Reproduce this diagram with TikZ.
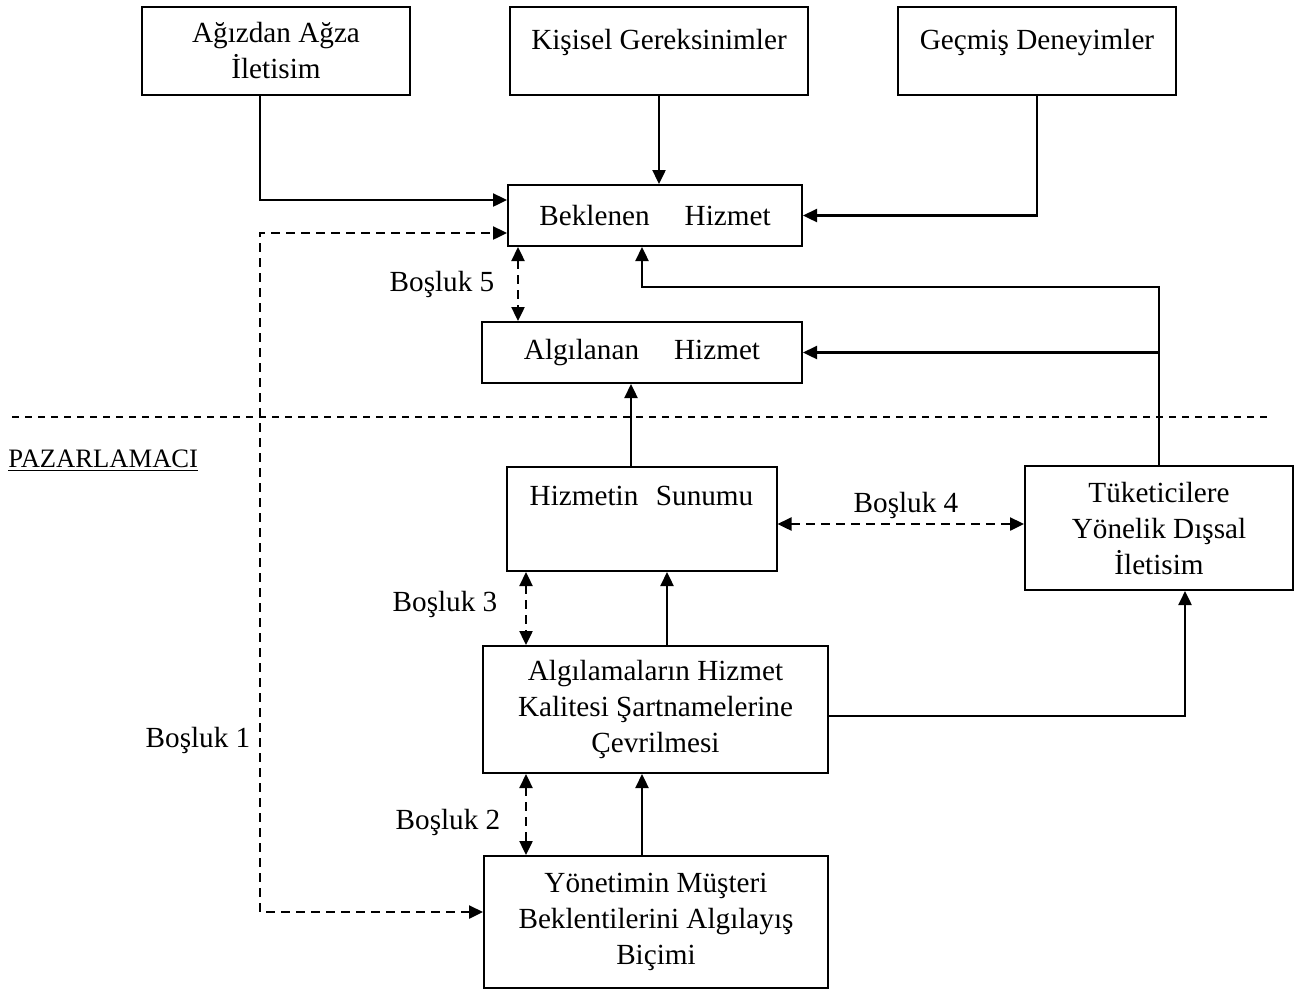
\documentclass[tikz,border=0pt]{standalone}
\usepackage{fontspec}
\setmainfont{Liberation Serif}
\usetikzlibrary{arrows.meta,calc}

\begin{document}
\begin{tikzpicture}[x=0.5pt, y=-0.5pt,
    font=\fontsize{14.6}{18}\selectfont,
    box/.style={draw, line width=1pt, align=center, inner sep=3pt},
    arr/.style={-{Triangle[length=7pt,width=6.5pt]}, line width=1.2pt},
    gap/.style={{Triangle[length=7pt,width=6.5pt]}-{Triangle[length=7pt,width=6.5pt]},
      line width=1.2pt, dash pattern=on 4.5pt off 3pt},
    gaplabel/.style={inner sep=0pt}]
  \useasboundingbox (0,0) rectangle (1294,992);

  % customer side
  \node[box, minimum width=134pt, minimum height=44pt] (wom) at (276,51)
    {Ağızdan Ağza\\İletisim};
  \node[box, minimum width=149pt, text height=18.3pt, text depth=19.7pt] (needs) at (659,51)
    {Kişisel Gereksinimler};
  \node[box, minimum width=139pt, text height=18.3pt, text depth=19.7pt] (past) at (1037,51)
    {Geçmiş Deneyimler};
  \node[box, minimum width=147pt, minimum height=30.5pt] (expected) at (655,215.5)
    {Beklenen\hspace{1.2em}Hizmet};
  \node[box, minimum width=160pt, minimum height=30.5pt] (perceived) at (642,352.5)
    {Algılanan\hspace{1.2em}Hizmet};

  \draw[line width=0.8pt, dash pattern=on 3.5pt off 3pt] (12,417) -- (1270,417);
  \node[anchor=west, inner sep=0pt, font=\fontsize{13.3}{16}\selectfont] (marketer) at (8,461)
    {\underline{PAZARLAMACI}};

  % marketer side
  \node[box, minimum width=135pt, text height=16.3pt, text depth=29.7pt] (delivery) at (641.5,519)
    {Hizmetin\hspace{0.6em}Sunumu};
  \node[box, minimum width=134pt, minimum height=62pt] (external) at (1159,528)
    {Tüketicilere\\Yönelik Dışsal\\İletisim};
  \node[box, minimum width=172.5pt, minimum height=63.5pt] (specs) at (655.5,709.5)
    {Algılamaların Hizmet\\Kalitesi Şartnamelerine\\Çevrilmesi};
  \node[box, minimum width=172pt, minimum height=66pt] (mgmt) at (656,922)
    {Yönetimin Müşteri\\Beklentilerini Algılayış\\Biçimi};

  \coordinate (womout) at ($(wom.south)+(-16,0)$);
  \coordinate (womin) at ($(expected.west)+(0,-15.5)$);
  \draw[arr] (womout) |- (womin);
  \draw[arr] (needs.south) -- (needs.south |- expected.north);
  \draw[arr] (past.south) |- (expected.east);

  \coordinate (bend) at ($(expected.south)+(-13,40)$);
  \draw[arr] (external.north) |- (bend) -- (bend |- expected.south);
  \draw[arr] (external.north |- perceived.east) -- (perceived.east);
  \coordinate (delout) at ($(delivery.north)+(-10.5,0)$);
  \draw[arr] (delout) -- (delout |- perceived.south);
  \coordinate (specout) at ($(specs.north)+(11.5,0)$);
  \draw[arr] (specout) -- (specout |- delivery.south);
  \coordinate (specright) at ($(specs.east)+(0,6.5)$);
  \coordinate (extin) at ($(external.south)+(26,0)$);
  \draw[arr] (specright) -| (extin);
  \coordinate (mgmtout) at ($(mgmt.north)+(-14,0)$);
  \draw[arr] (mgmtout) -- (mgmtout |- specs.south);

  % gaps
  \coordinate (g5) at ($(expected.south west)+(11,0)$);
  \draw[gap] (g5) -- (g5 |- perceived.north);
  \node[gaplabel] (gap5) at (442,284) {Boşluk 5};
  \coordinate (g4) at ($(delivery.east)+(0,5)$);
  \draw[gap] (g4) -- (g4 -| external.west);
  \node[gaplabel] (gap4) at (906,505) {Boşluk 4};
  \coordinate (g3) at ($(delivery.south west)+(20.5,0)$);
  \draw[gap] (g3) -- (g3 |- specs.north);
  \node[gaplabel] (gap3) at (445,604) {Boşluk 3};
  \coordinate (g2) at ($(specs.south west)+(44,0)$);
  \draw[gap] (g2) -- (g2 |- mgmt.north);
  \node[gaplabel] (gap2) at (448,822) {Boşluk 2};
  \coordinate (g1low) at ($(mgmt.west)+(0,-10)$);
  \coordinate (g1high) at ($(expected.west)+(0,17.5)$);
  \coordinate (g1corner) at (260,0 |- g1high);
  \draw[gap] (g1low) -| (g1corner) -- (g1high);
  \node[gaplabel] (gap1) at (198,740) {Boşluk 1};
\end{tikzpicture}
\end{document}
